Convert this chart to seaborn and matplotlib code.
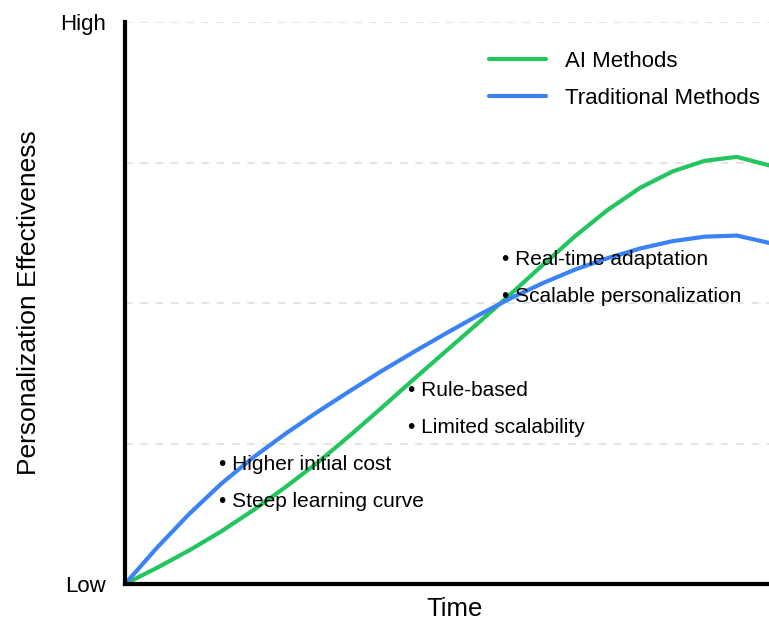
import pandas as pd
import matplotlib.pyplot as plt
import seaborn as sns

# values (time 0-10, effectiveness 0-100)
time = [0, 0.5, 1, 1.5, 2, 2.5, 3, 3.5, 4, 4.5, 5,
        5.5, 6, 6.5, 7, 7.5, 8, 8.5, 9, 9.5, 10]
ai_methods = [0, 2.9, 6.0, 9.4, 13.2, 17.3, 21.7, 26.5, 31.5, 36.6, 41.6,
              46.6, 51.7, 56.9, 62.0, 66.6, 70.5, 73.4, 75.3, 76.0, 74.5]
traditional = [0, 6.5, 12.5, 17.9, 22.6, 26.8, 30.7, 34.4, 38.0, 41.4, 44.7,
               47.9, 50.9, 53.6, 56.0, 58.0, 59.7, 61.0, 61.8, 62.0, 60.7]

notes_x = [1.46, 1.46, 4.39, 4.39, 5.85, 5.85]
notes_y = [21.2, 14.6, 34.5, 27.8, 57.8, 51.2]
notes = ['Higher initial cost', 'Steep learning curve',
         'Rule-based', 'Limited scalability',
         'Real-time adaptation', 'Scalable personalization']

df = pd.concat([
    pd.DataFrame({'time': time, 'value': ai_methods, 'Method': 'AI Methods'}),
    pd.DataFrame({'time': time, 'value': traditional, 'Method': 'Traditional Methods'}),
])

sns.set_style('white')
plt.rcParams['font.family'] = ['Liberation Sans', 'DejaVu Sans']
plt.rcParams['text.color'] = 'black'

fig = plt.figure(figsize=(7.69, 6.22), dpi=100)
ax = fig.add_axes([125 / 769, 38 / 622, 644 / 769, 562 / 622])

sns.lineplot(data=df, x='time', y='value', hue='Method',
             palette={'AI Methods': '#22c55e', 'Traditional Methods': '#3b82f6'},
             linewidth=3, ax=ax, solid_joinstyle='round', solid_capstyle='round')

ax.set_xlim(0, 10)
ax.set_ylim(0, 100)
for g in [25, 50, 75, 100]:
    ax.axhline(g, color='#dddddd', linestyle=(0, (5, 5)), linewidth=1.1, zorder=0)

ax.set_xticks([])
ax.set_yticks([0, 100])
ax.set_yticklabels(['Low', 'High'], fontsize=16, color='black')
ax.tick_params(axis='y', length=0, pad=14)

ax.set_xlabel('Time', fontsize=18.5, color='black')
ax.set_ylabel('Personalization Effectiveness', fontsize=19, color='black')
ax.xaxis.set_label_coords(0.512, -0.024)
ax.yaxis.set_label_coords(-0.13, 0.5)

for side in ['top', 'right']:
    ax.spines[side].set_visible(False)
for side in ['left', 'bottom']:
    ax.spines[side].set_linewidth(3)
    ax.spines[side].set_color('black')

for x, y, t in zip(notes_x, notes_y, notes):
    ax.text(x, y, '\u2022 ' + t, fontsize=15, ha='left', va='center', color='black')

ax.legend(loc='upper right', bbox_to_anchor=(1.0, 0.965), borderaxespad=0,
          frameon=False, fontsize=16, handlelength=2.6, handletextpad=0.85,
          labelspacing=0.72, title=None)

fig.savefig('out.png', dpi=100)
